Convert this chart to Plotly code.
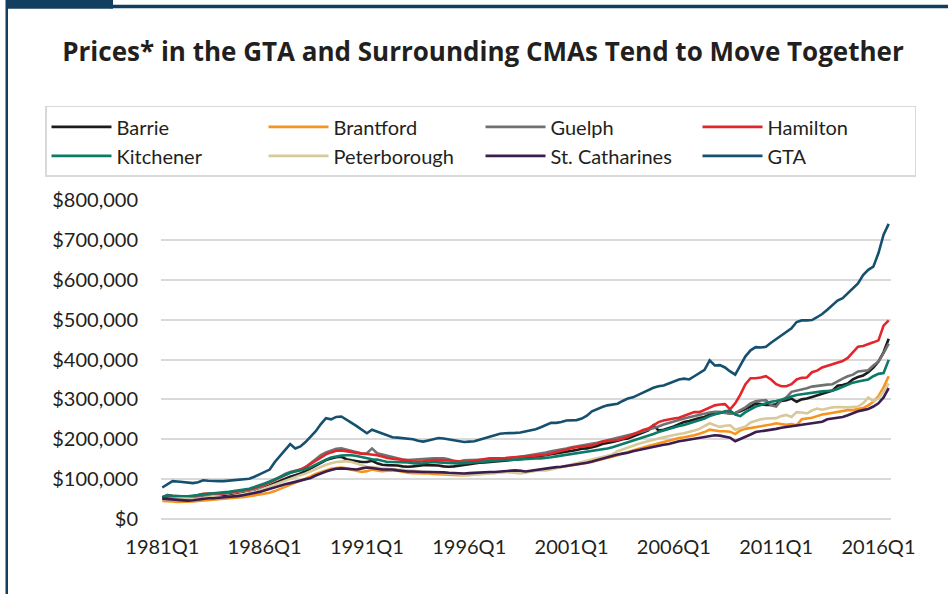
import plotly.graph_objects as go

# Quarterly categories 1981Q1 .. 2016Q3
years = list(range(1981, 2017))
quarters = [f"{y}Q{q}" for y in years for q in range(1, 5)][:143]

tick_labels = ["1981Q1", "1986Q1", "1991Q1", "1996Q1", "2001Q1", "2006Q1", "2011Q1", "2016Q1"]

# Values in thousands of dollars
barrie = [50, 52, 50, 49, 48, 47, 48, 50, 52, 53, 54, 55, 56, 58, 60, 62, 64, 66, 69, 73,
          78, 84, 90, 96, 102, 106, 110, 114, 120, 127, 135, 142, 148, 152, 155, 156, 150, 147, 145, 143,
          143, 146, 140, 136, 135, 135, 134, 132, 131, 132, 134, 135, 135, 135, 134, 132, 131, 132, 134, 136,
          138, 140, 141, 142, 143, 144, 145, 146, 148, 149, 150, 152, 154, 156, 159, 160, 162, 165, 167, 168,
          170, 173, 176, 177, 180, 183, 188, 190, 193, 196, 200, 202, 207, 212, 218, 222, 235, 222, 224, 228,
          232, 238, 243, 246, 250, 253, 256, 262, 264, 266, 268, 265, 266, 270, 275, 282, 290, 288, 286, 286,
          288, 296, 298, 302, 294, 300, 302, 306, 310, 314, 318, 322, 334, 336, 340, 350, 356, 360, 368, 380,
          395, 418, 452]

brantford = [45, 45, 44, 43, 43, 43, 44, 45, 46, 47, 48, 49, 50, 51, 52, 53, 55, 57, 59, 61,
             63, 66, 70, 75, 80, 86, 92, 97, 102, 107, 113, 118, 122, 126, 128, 129, 127, 124, 121, 118,
             120, 124, 122, 120, 121, 122, 121, 118, 116, 115, 115, 114, 114, 113, 113, 112, 111, 110, 110, 110,
             111, 113, 114, 115, 116, 117, 118, 118, 119, 120, 121, 118, 120, 122, 124, 125, 126, 128, 130, 132,
             134, 137, 139, 141, 143, 147, 150, 154, 157, 160, 164, 168, 172, 176, 180, 183, 186, 190, 193, 196,
             200, 203, 205, 207, 210, 214, 218, 224, 222, 220, 220, 219, 213, 222, 226, 228, 230, 233, 235, 237,
             240, 238, 236, 238, 235, 250, 252, 254, 258, 262, 264, 266, 268, 270, 273, 273, 275, 278, 285, 294,
             308, 330, 358]

guelph = [55, 58, 56, 55, 54, 54, 55, 57, 59, 60, 61, 62, 63, 65, 67, 69, 71, 73, 76, 80,
          85, 92, 98, 106, 113, 118, 121, 124, 130, 140, 150, 160, 167, 172, 176, 177, 174, 170, 167, 164,
          165, 177, 165, 162, 158, 155, 152, 149, 148, 149, 150, 151, 152, 152, 152, 152, 150, 145, 144, 147,
          148, 148, 148, 148, 149, 149, 150, 151, 153, 154, 156, 158, 160, 162, 165, 167, 170, 172, 175, 177,
          180, 182, 184, 186, 188, 191, 194, 197, 200, 204, 207, 210, 213, 216, 220, 224, 227, 232, 237, 241,
          245, 249, 252, 255, 258, 262, 265, 267, 269, 269, 266, 264, 266, 273, 280, 290, 295, 297, 298, 285,
          282, 298, 305, 319, 322, 324, 328, 332, 334, 336, 337, 338, 346, 352, 358, 362, 370, 372, 373, 385,
          395, 416, 440]

hamilton = [54, 60, 58, 57, 56, 55, 57, 60, 63, 64, 64, 64, 65, 66, 68, 70, 72, 74, 78, 82,
            86, 92, 98, 104, 110, 116, 120, 124, 130, 138, 146, 155, 162, 167, 171, 172, 170, 167, 165, 164,
            163, 162, 160, 157, 153, 151, 150, 148, 147, 145, 144, 145, 147, 148, 148, 148, 147, 146, 144, 143,
            144, 146, 149, 150, 152, 152, 152, 153, 154, 155, 156, 158, 159, 159, 160, 161, 164, 167, 171, 174,
            178, 180, 182, 184, 185, 189, 194, 196, 197, 198, 202, 206, 212, 218, 223, 227, 236, 243, 247, 250,
            252, 254, 258, 263, 268, 268, 274, 280, 285, 287, 288, 275, 290, 312, 338, 353, 353, 355, 358, 350,
            338, 333, 333, 338, 350, 354, 355, 368, 372, 380, 384, 388, 392, 396, 404, 418, 432, 434, 438, 443,
            448, 485, 498]

kitchener = [54, 60, 58, 57, 57, 57, 58, 60, 62, 63, 64, 65, 66, 68, 70, 72, 74, 76, 80, 84,
             89, 94, 100, 106, 111, 116, 119, 122, 125, 130, 137, 143, 149, 154, 157, 159, 160, 160, 158, 155,
             152, 150, 149, 146, 143, 143, 143, 143, 142, 140, 139, 140, 142, 143, 142, 141, 140, 139, 139, 140,
             141, 142, 143, 144, 145, 146, 148, 148, 148, 149, 150, 150, 152, 152, 152, 153, 155, 157, 159, 160,
             163, 165, 167, 168, 170, 172, 175, 177, 180, 184, 188, 192, 196, 201, 205, 209, 213, 218, 222, 226,
             230, 233, 236, 240, 244, 249, 252, 258, 262, 266, 270, 272, 262, 258, 268, 275, 282, 286, 290, 294,
             296, 299, 302, 307, 311, 313, 315, 317, 318, 320, 321, 322, 326, 332, 337, 342, 345, 347, 350, 358,
             364, 366, 399]

peterborough = [49, 50, 50, 51, 51, 51, 50, 50, 52, 55, 57, 56, 54, 56, 59, 61, 63, 65, 68, 72,
                77, 82, 87, 92, 96, 101, 106, 110, 114, 120, 126, 131, 136, 140, 143, 144, 145, 143, 139, 134,
                131, 130, 128, 127, 126, 125, 123, 122, 121, 120, 119, 118, 117, 116, 116, 115, 113, 112, 111, 110,
                110, 111, 112, 112, 113, 114, 116, 118, 117, 115, 114, 116, 119, 121, 122, 122, 124, 127, 130, 133,
                137, 140, 143, 146, 149, 152, 155, 158, 162, 170, 175, 180, 184, 188, 192, 196, 199, 202, 205, 208,
                211, 213, 215, 218, 222, 226, 232, 240, 235, 231, 234, 235, 224, 228, 232, 242, 246, 250, 252, 252,
                253, 258, 261, 256, 268, 267, 265, 272, 277, 274, 277, 280, 281, 280, 280, 281, 282, 290, 305, 296,
                302, 320, 340]

st_catharines = [51, 50, 49, 48, 47, 46, 47, 49, 51, 52, 52, 53, 54, 55, 56, 58, 60, 62, 65, 68,
                 72, 76, 80, 84, 87, 90, 93, 96, 99, 103, 109, 115, 119, 123, 126, 127, 126, 125, 124, 127,
                 129, 128, 126, 124, 124, 124, 122, 120, 119, 119, 118, 118, 118, 118, 118, 117, 116, 115, 114, 114,
                 115, 116, 117, 118, 118, 118, 119, 120, 121, 122, 121, 119, 121, 123, 125, 127, 128, 130, 131, 133,
                 134, 136, 138, 141, 144, 148, 152, 155, 159, 162, 164, 166, 170, 173, 175, 178, 181, 184, 186, 188,
                 192, 195, 197, 199, 201, 203, 205, 208, 210, 209, 206, 204, 195, 200, 206, 212, 218, 220, 222, 223,
                 226, 229, 231, 232, 234, 236, 238, 240, 242, 244, 250, 252, 254, 256, 260, 266, 270, 273, 276, 282,
                 290, 305, 328]

gta = [79, 86, 95, 94, 93, 91, 90, 92, 97, 96, 95, 95, 95, 96, 98, 99, 100, 101, 106, 112,
       118, 124, 143, 158, 174, 188, 177, 182, 193, 206, 220, 238, 253, 250, 256, 257, 250, 241, 233, 224,
       215, 224, 219, 213, 208, 205, 204, 203, 202, 200, 196, 194, 197, 200, 203, 202, 200, 198, 195, 193,
       194, 195, 199, 203, 206, 210, 214, 215, 215, 216, 217, 220, 223, 225, 230, 236, 241, 241, 243, 247,
       248, 248, 252, 259, 270, 276, 281, 285, 287, 289, 296, 302, 305, 311, 318, 324, 329, 333, 335, 340,
       346, 350, 352, 350, 358, 366, 374, 398, 385, 386, 380, 370, 362, 385, 408, 423, 431, 430, 432, 442,
       451, 459, 467, 478, 494, 498, 498, 499, 506, 514, 525, 537, 548, 554, 566, 577, 591, 612, 625, 633,
       667, 713, 740]

series_names = ["Barrie", "Brantford", "Guelph", "Hamilton", "Kitchener",
                "Peterborough", "St. Catharines", "GTA"]
series_values = [barrie, brantford, guelph, hamilton, kitchener,
                 peterborough, st_catharines, gta]
series_colors = ["#1c1c1c", "#f7941d", "#707173", "#e2262b", "#0b7b68",
                 "#d8c99a", "#3c1d50", "#15506f"]

fig = go.Figure()
for name, vals, col in zip(series_names, series_values, series_colors):
    fig.add_trace(go.Scatter(
        x=quarters, y=[v * 1000 for v in vals], name=name, mode="lines",
        line=dict(color=col, width=2.6),
    ))

# plot area in pixels: left 161, right 891, top 200, bottom 518.7
L, R, T, B = 161, 891, 200, 518.7
W, H = R - L, B - T


def px_x(p):
    return (p - L) / W


def px_y(p):
    return (B - p) / H


frame_col = "#123f60"
shapes = [
    dict(type="rect", xref="paper", yref="paper", x0=px_x(6), x1=px_x(113), y0=px_y(9), y1=px_y(0),
         fillcolor=frame_col, line=dict(width=0), layer="above"),
    dict(type="rect", xref="paper", yref="paper", x0=px_x(110), x1=px_x(948), y0=px_y(8.5), y1=px_y(5),
         fillcolor=frame_col, line=dict(width=0), layer="above"),
    dict(type="rect", xref="paper", yref="paper", x0=px_x(5.5), x1=px_x(8), y0=px_y(594), y1=px_y(0),
         fillcolor=frame_col, line=dict(width=0), layer="above"),
]

font_family = "Lato, 'Open Sans', sans-serif"
text_col = "#231f20"

fig.update_layout(
    width=948, height=594,
    margin=dict(l=L, r=948 - R, t=T, b=594 - B, autoexpand=False),
    paper_bgcolor="white", plot_bgcolor="white",
    font=dict(family=font_family, size=20, color=text_col),
    title=dict(text="<b>Prices* in the GTA and Surrounding CMAs Tend to Move Together</b>",
               xref="container", x=483 / 948, xanchor="center",
               yref="container", y=1 - 52 / 594, yanchor="middle",
               font=dict(family="'Open Sans', Lato, sans-serif", size=26, color=text_col)),
    legend=dict(orientation="h", xref="paper", yref="paper",
                x=px_x(45), xanchor="left", y=px_y(106), yanchor="top",
                bordercolor="#d9d9d9", borderwidth=1.5, bgcolor="white",
                entrywidth=142, entrywidthmode="pixels", itemwidth=60,
                font=dict(family=font_family, size=20, color=text_col),
                tracegroupgap=0, traceorder="normal"),
    showlegend=True,
    shapes=shapes,
    xaxis=dict(type="category", range=[-0.25, 142.45], tickmode="array",
               tickvals=tick_labels, ticktext=tick_labels, showgrid=False,
               showline=False, zeroline=False, ticks="", ticklabelstandoff=14,
               tickfont=dict(family=font_family, size=20, color=text_col)),
    yaxis=dict(range=[0, 800000], dtick=100000, tickprefix="$", tickformat=",.0f",
               showgrid=True, gridcolor="#d9d9d9", gridwidth=1.5, zeroline=True,
               zerolinecolor="#d9d9d9", zerolinewidth=1.5, showline=False, ticks="",
               ticklabelstandoff=22,
               tickfont=dict(family=font_family, size=20, color=text_col)),
)

fig.write_html("out.html", config={"displayModeBar": False},
               post_script="document.body.style.margin='0px';document.body.style.overflow='hidden';")
